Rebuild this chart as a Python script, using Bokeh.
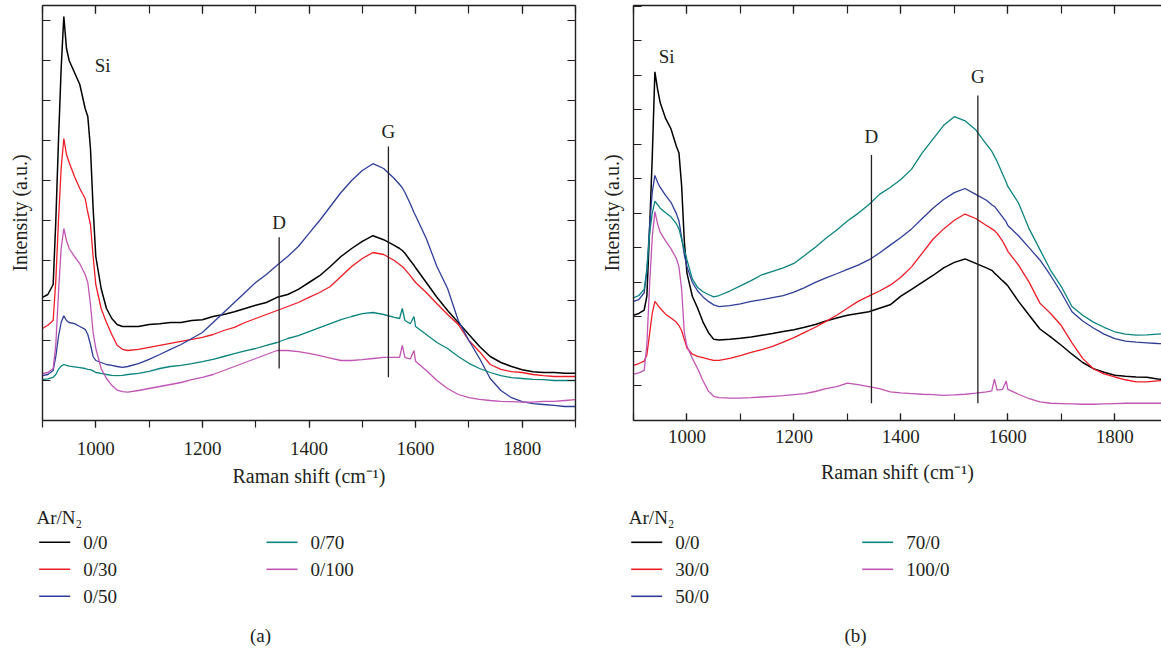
import math
from bokeh.plotting import figure
from bokeh.models import (Range1d, LinearAxis, SingleIntervalTicker,
                          CustomJSTickFormatter, ColumnDataSource)
from bokeh.layouts import column, row
from bokeh.embed import file_html
from bokeh.resources import INLINE
from bokeh.core.properties import value

# ---------------- data ----------------
raman_shift = [900, 910, 920, 925, 930, 935, 940, 945, 950, 960, 970, 980, 985, 990, 995,
               1000, 1010, 1020, 1030, 1040, 1050, 1060, 1080, 1100, 1120, 1140, 1160, 1180,
               1200, 1220, 1240, 1260, 1280, 1300, 1320, 1340, 1360, 1380, 1400, 1420, 1440,
               1460, 1480, 1500, 1520, 1540, 1560, 1570, 1575, 1580, 1590, 1597, 1600, 1620,
               1640, 1660, 1680, 1700, 1720, 1740, 1760, 1780, 1800, 1820, 1840, 1860, 1880, 1900]

# Panel (a): Ar/N2 = 0/x
a_0_0 = [3.08, 3.15, 3.4, 5.0, 7.0, 8.8, 10.1, 9.3, 9.0, 8.7, 8.4, 7.8, 7.6, 6.8, 5.3,
         4.1, 3.3, 2.8, 2.55, 2.4, 2.35, 2.35, 2.35, 2.4, 2.42, 2.45, 2.45, 2.5,
         2.52, 2.6, 2.65, 2.72, 2.8, 2.88, 2.95, 3.08, 3.15, 3.28, 3.45, 3.62, 3.85,
         4.1, 4.3, 4.48, 4.62, 4.52, 4.38, 4.3, 4.25, 4.18, 4.0, 3.88, 3.82, 3.45,
         3.08, 2.75, 2.45, 2.15, 1.85, 1.6, 1.45, 1.35, 1.27, 1.22, 1.2, 1.2, 1.18, 1.18]
a_0_30 = [2.3, 2.38, 2.5, 3.5, 5.0, 6.3, 7.05, 6.65, 6.45, 6.1, 5.8, 5.55, 5.2, 4.9, 4.1,
          3.4, 2.8, 2.45, 2.15, 1.88, 1.78, 1.75, 1.78, 1.83, 1.88, 1.93, 1.98, 2.03,
          2.08, 2.15, 2.25, 2.33, 2.45, 2.55, 2.65, 2.75, 2.85, 2.95, 3.08, 3.2, 3.35,
          3.6, 3.85, 4.05, 4.2, 4.15, 4.0, 3.9, 3.85, 3.78, 3.62, 3.5, 3.45, 3.2,
          2.92, 2.65, 2.4, 2.0, 1.72, 1.4, 1.28, 1.22, 1.2, 1.15, 1.12, 1.1, 1.1, 1.1]
a_0_50 = [1.12, 1.15, 1.25, 1.6, 2.1, 2.45, 2.62, 2.5, 2.45, 2.42, 2.35, 2.28, 2.15, 1.9, 1.6,
          1.5, 1.45, 1.4, 1.38, 1.35, 1.33, 1.35, 1.42, 1.53, 1.65, 1.78, 1.9, 2.05,
          2.2, 2.45, 2.7, 2.95, 3.2, 3.45, 3.65, 3.88, 4.1, 4.35, 4.68, 5.0, 5.35,
          5.7, 6.0, 6.25, 6.42, 6.3, 6.05, 5.9, 5.82, 5.7, 5.42, 5.2, 5.12, 4.55,
          3.85, 3.3, 2.5, 2.0, 1.55, 1.05, 0.75, 0.57, 0.47, 0.42, 0.4, 0.38, 0.35, 0.35]
a_0_70 = [1.02, 1.04, 1.08, 1.15, 1.28, 1.36, 1.4, 1.38, 1.36, 1.34, 1.32, 1.3, 1.28, 1.27, 1.24,
          1.2, 1.18, 1.15, 1.13, 1.12, 1.13, 1.15, 1.18, 1.23, 1.3, 1.35, 1.38, 1.42,
          1.47, 1.53, 1.6, 1.67, 1.74, 1.8, 1.88, 1.95, 2.05, 2.12, 2.22, 2.32, 2.42,
          2.52, 2.6, 2.67, 2.7, 2.65, 2.58, 2.55, 2.8, 2.5, 2.42, 2.6, 2.35, 2.15,
          1.95, 1.8, 1.6, 1.43, 1.3, 1.2, 1.12, 1.07, 1.05, 1.03, 1.02, 1.0, 1.0, 1.0]
a_0_100 = [1.17, 1.2, 1.3, 1.9, 3.2, 4.3, 4.8, 4.5, 4.3, 4.1, 3.92, 3.65, 3.45, 2.9, 2.2,
           1.8, 1.3, 1.05, 0.88, 0.76, 0.72, 0.71, 0.75, 0.8, 0.85, 0.9, 0.95, 1.02,
           1.08, 1.15, 1.25, 1.35, 1.45, 1.55, 1.65, 1.75, 1.75, 1.72, 1.68, 1.62, 1.56,
           1.5, 1.5, 1.52, 1.55, 1.58, 1.58, 1.58, 1.88, 1.57, 1.54, 1.75, 1.48, 1.25,
           1.0, 0.8, 0.65, 0.57, 0.53, 0.5, 0.48, 0.47, 0.46, 0.46, 0.48, 0.48, 0.5, 0.52]

# Panel (b): Ar/N2 = x/0
b_0_0 = [3.05, 3.1, 3.2, 3.6, 5.5, 7.6, 10.1, 9.6, 9.2, 8.75, 8.45, 7.95, 7.75, 6.8, 5.2,
         4.27, 3.6, 3.25, 2.85, 2.55, 2.35, 2.33, 2.35, 2.38, 2.42, 2.47, 2.52, 2.58,
         2.63, 2.7, 2.78, 2.88, 2.97, 3.05, 3.1, 3.15, 3.25, 3.35, 3.6, 3.8, 4.0,
         4.2, 4.42, 4.58, 4.68, 4.55, 4.42, 4.35, 4.27, 4.2, 4.05, 3.95, 3.9, 3.45,
         3.05, 2.65, 2.42, 2.18, 1.92, 1.68, 1.5, 1.4, 1.31, 1.28, 1.26, 1.25, 1.2, 1.18]
b_30_0 = [1.6, 1.65, 1.72, 1.9, 2.5, 3.1, 3.45, 3.35, 3.25, 3.08, 2.97, 2.85, 2.75, 2.6, 2.35,
          2.1, 1.92, 1.86, 1.82, 1.78, 1.74, 1.74, 1.8, 1.88, 1.97, 2.05, 2.15, 2.27,
          2.4, 2.55, 2.7, 2.87, 3.05, 3.25, 3.45, 3.6, 3.75, 3.92, 4.15, 4.45, 4.85,
          5.25, 5.55, 5.8, 5.98, 5.85, 5.65, 5.55, 5.5, 5.42, 5.2, 5.0, 4.9, 4.5,
          4.0, 3.4, 3.1, 2.75, 2.25, 1.8, 1.5, 1.35, 1.26, 1.18, 1.12, 1.12, 1.15, 1.16]
b_50_0 = [3.45, 3.5, 3.7, 4.3, 5.6, 6.6, 7.1, 6.9, 6.75, 6.52, 6.32, 6.0, 5.78, 5.3, 4.8,
          4.45, 4.0, 3.75, 3.58, 3.45, 3.35, 3.3, 3.33, 3.38, 3.45, 3.5, 3.56, 3.62,
          3.72, 3.85, 4.0, 4.13, 4.25, 4.38, 4.5, 4.65, 4.85, 5.08, 5.3, 5.55, 5.85,
          6.15, 6.4, 6.6, 6.72, 6.55, 6.38, 6.25, 6.2, 6.1, 5.9, 5.75, 5.65, 5.35,
          5.0, 4.65, 4.2, 3.7, 3.15, 2.88, 2.68, 2.5, 2.37, 2.3, 2.27, 2.25, 2.23, 2.22]
b_70_0 = [3.55, 3.62, 3.8, 4.4, 5.4, 6.0, 6.35, 6.25, 6.15, 6.02, 5.9, 5.7, 5.55, 5.25, 4.95,
          4.65, 4.1, 3.85, 3.73, 3.65, 3.58, 3.62, 3.75, 3.9, 4.05, 4.22, 4.32, 4.42,
          4.55, 4.78, 5.02, 5.28, 5.52, 5.78, 6.0, 6.25, 6.55, 6.75, 6.98, 7.28, 7.75,
          8.15, 8.55, 8.8, 8.68, 8.42, 8.0, 7.8, 7.65, 7.5, 7.15, 6.9, 6.78, 6.3,
          5.55, 4.95, 4.35, 3.88, 3.3, 3.05, 2.85, 2.7, 2.57, 2.5, 2.47, 2.48, 2.5, 2.52]
b_100_0 = [1.34, 1.38, 1.45, 2.2, 3.9, 5.3, 6.05, 5.7, 5.45, 5.2, 4.98, 4.7, 4.45, 3.8, 2.55,
           2.15, 1.8, 1.5, 1.15, 0.85, 0.7, 0.66, 0.65, 0.65, 0.66, 0.68, 0.7, 0.72,
           0.75, 0.78, 0.84, 0.92, 0.98, 1.08, 1.04, 0.98, 0.92, 0.83, 0.8, 0.78, 0.76,
           0.75, 0.73, 0.74, 0.76, 0.79, 0.83, 0.86, 1.2, 0.88, 0.9, 1.14, 0.9, 0.76,
           0.63, 0.54, 0.5, 0.49, 0.48, 0.47, 0.47, 0.48, 0.49, 0.5, 0.5, 0.5, 0.5, 0.5]

labels_a = ["0/0", "0/30", "0/50", "0/70", "0/100"]
labels_b = ["0/0", "30/0", "50/0", "70/0", "100/0"]
series_a = [a_0_0, a_0_30, a_0_50, a_0_70, a_0_100]
series_b = [b_0_0, b_30_0, b_50_0, b_70_0, b_100_0]

# band markers (D, G) and the Si label
band_names = ["D", "G"]
bands_a_x = [1344, 1549]
bands_a_low = [1.3, 1.08]
bands_a_high = [4.58, 6.85]
bands_a_label_y = [4.96, 7.23]
bands_b_x = [1345, 1544]
bands_b_low = [0.5, 0.5]
bands_b_high = [7.69, 9.41]
bands_b_label_y = [8.22, 9.97]
si_a = (1013, 8.88)
si_b = (962, 10.54)

for s in series_a + series_b:
    assert len(s) == len(raman_shift), len(s)

# ---------------- style ----------------
COLORS = ["#000000", "#ee1c25", "#2e3d98", "#0b8480", "#c155b5"]
WIDTHS = [1.5, 1.3, 1.3, 1.3, 1.3]
FONT = "Liberation Serif"
INK = "#231f20"


def style_lines(ax):
    ax.axis_line_width = 1.4
    ax.axis_line_color = INK
    ax.major_tick_line_color = INK
    ax.minor_tick_line_color = INK
    ax.major_tick_line_width = 1.2
    ax.minor_tick_line_width = 1.2


def blank_axis(ticker, tick_in, label=None, label_standoff=0):
    ax = LinearAxis(ticker=ticker, formatter=CustomJSTickFormatter(code="return ''"))
    ax.major_tick_in = tick_in
    ax.major_tick_out = 0
    ax.minor_tick_in = tick_in
    ax.minor_tick_out = 0
    ax.major_label_text_font_size = "0px"
    ax.major_label_standoff = 0
    if label:
        ax.axis_label = label
        ax.axis_label_text_font = FONT
        ax.axis_label_text_font_size = "20px"
        ax.axis_label_text_font_style = "normal"
        ax.axis_label_text_color = INK
        ax.axis_label_standoff = label_standoff
    style_lines(ax)
    return ax


def make_panel(width, b_left, b_right, x_end, y_end, series, bands_x, bands_low, bands_high,
               bands_label_y, si, bottom_out, right_axis, tick_standoff, xlab_standoff,
               ylab_standoff):
    p = figure(width=width, height=495, x_range=Range1d(900, x_end), y_range=Range1d(0, y_end),
               output_backend="svg", toolbar_location=None, title=None,
               min_border_left=b_left, min_border_right=b_right, min_border_top=5,
               min_border_bottom=75, x_axis_location=None, y_axis_location=None)
    p.outline_line_color = None
    p.xgrid.grid_line_color = None
    p.ygrid.grid_line_color = None

    xb = LinearAxis(ticker=SingleIntervalTicker(interval=200, num_minor_ticks=2))
    if bottom_out:
        xb.major_tick_in, xb.major_tick_out = 0, 7
        xb.minor_tick_in, xb.minor_tick_out = 0, 7
    else:
        xb.major_tick_in, xb.major_tick_out = 7, 0
        xb.minor_tick_in, xb.minor_tick_out = 7, 0
    xb.major_label_text_font = FONT
    xb.major_label_text_font_size = "19px"
    xb.major_label_text_color = INK
    xb.major_label_standoff = tick_standoff
    xb.axis_label = "Raman shift (cm\u207b\u00b9)"
    xb.axis_label_text_font = FONT
    xb.axis_label_text_font_size = "20px"
    xb.axis_label_text_font_style = "normal"
    xb.axis_label_text_color = INK
    xb.axis_label_standoff = xlab_standoff
    style_lines(xb)
    p.add_layout(xb, "below")
    p.add_layout(blank_axis(SingleIntervalTicker(interval=200, num_minor_ticks=2), 8), "above")
    p.add_layout(blank_axis(SingleIntervalTicker(interval=1, num_minor_ticks=0), 8,
                            "Intensity (a.u.)", ylab_standoff), "left")
    if right_axis:
        p.add_layout(blank_axis(SingleIntervalTicker(interval=1, num_minor_ticks=0), 8), "right")

    for ys, c, w in zip(series, COLORS, WIDTHS):
        p.line(raman_shift, ys, line_color=c, line_width=w)

    p.segment(x0=bands_x, y0=bands_low, x1=bands_x, y1=bands_high, line_color=INK, line_width=1.3)
    src = ColumnDataSource(dict(x=bands_x + [si[0]], y=bands_label_y + [si[1]],
                                t=band_names + ["Si"]))
    p.text(x="x", y="y", text="t", source=src, text_font=value(FONT),
           text_font_size=value("19px"), text_align="center", text_baseline="middle",
           text_color=INK)
    return p


pa = make_panel(590, 42, 15, 1900, 10.375, series_a, bands_a_x, bands_a_low, bands_a_high,
                bands_a_label_y, si_a, True, True, 14, 7, 12)
pb = make_panel(571, 43, 0, 1887.4, 12.02, series_b, bands_b_x, bands_b_low, bands_b_high,
                bands_b_label_y, si_b, False, False, 9, 15, 11)

# ---------------- legends and captions ----------------
leg = figure(width=1161, height=155, x_range=Range1d(0, 1161), y_range=Range1d(650, 495),
             output_backend="svg", toolbar_location=None, title=None, min_border=0,
             x_axis_location=None, y_axis_location=None)
leg.outline_line_color = None
leg.xgrid.grid_line_color = None
leg.ygrid.grid_line_color = None

row_centers = [541.8, 568.8, 595.8]
for labels, title_x, col_x, cap_x, cap in [(labels_a, 36, [38.7, 266], 260, "(a)"),
                                            (labels_b, 628.3, [630.7, 861.7], 855, "(b)")]:
    tx, ty, tt = [], [], []
    for i, lab in enumerate(labels):
        c, r = divmod(i, 3)
        leg.segment(x0=[col_x[c]], y0=[row_centers[r]], x1=[col_x[c] + 31], y1=[row_centers[r]],
                    line_color=COLORS[i], line_width=1.6)
        tx.append(col_x[c] + 44); ty.append(row_centers[r]); tt.append(lab)
    leg.text(x=tx, y=ty, text=tt, text_font=value(FONT), text_font_size=value("19px"),
             text_align="left", text_baseline="middle", text_color=INK)
    leg.text(x=[title_x], y=[516.8], text=["Ar/N\u2082"], text_font=value(FONT),
             text_font_size=value("19px"), text_align="left", text_baseline="middle",
             text_color=INK)
    leg.text(x=[cap_x], y=[634.5], text=[cap], text_font=value(FONT),
             text_font_size=value("19px"), text_align="center", text_baseline="middle",
             text_color=INK)

layout = column(row(pa, pb), leg)
open("out.html", "w").write(file_html(layout, INLINE))
